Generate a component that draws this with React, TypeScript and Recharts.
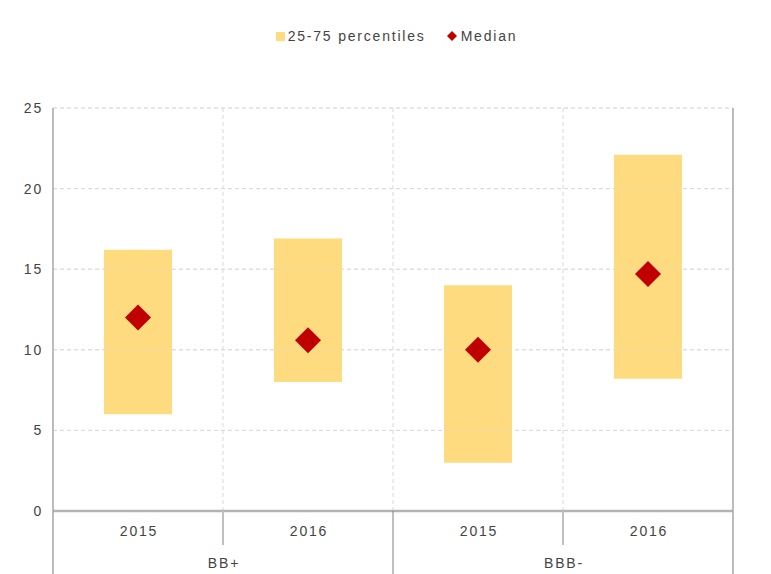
import { ComposedChart, Bar, Line, XAxis, YAxis, CartesianGrid, ReferenceLine, Legend } from 'recharts';

const groups = ['BB+', 'BB+', 'BBB-', 'BBB-'];
const years = ['2015', '2016', '2015', '2016'];
const p25 = [6.0, 8.0, 3.0, 8.2];
const p75 = [16.2, 16.9, 14.0, 22.1];
const median = [12.0, 10.6, 10.0, 14.7];
const yTicks = [0, 5, 10, 15, 20, 25];

const data = years.map((y, i) => ({
  key: `${groups[i]} ${y}`,
  year: y,
  group: groups[i],
  range: [p25[i], p75[i]],
  median: median[i],
}));

const TEXT = '#444444';
const AXIS = '#a6a6a6';
const BAND = '#FFDB80';
const RED = '#C00000';
const GRID = '#d9d9d9';
const font = { fontFamily: 'Liberation Sans, Arial, sans-serif', fontSize: 14, letterSpacing: 1.8 };

function CategoryTick(props: any) {
  const { x, y, index, payload, width, visibleTicksCount } = props;
  const count = visibleTicksCount || data.length;
  const half = payload && payload.offset ? payload.offset : width / count / 2;
  const last = data.length - 1;
  const row = data[index];
  return (
    <g>
      <text x={x + 1} y={y + 25} textAnchor="middle" fill={TEXT} style={font}>
        {row.year}
      </text>
      {index % 2 === 1 && (
        <text x={x - half + 1} y={y + 57} textAnchor="middle" fill={TEXT} style={font}>
          {row.group}
        </text>
      )}
      {index === 0 && <line x1={x - half} x2={x - half} y1={y} y2={y + 70} stroke={AXIS} strokeWidth={1.5} />}
      {index < last && index % 2 === 0 && (
        <line x1={x + half} x2={x + half} y1={y} y2={y + 34} stroke="#bfbfbf" strokeWidth={2} />
      )}
      {index < last && index % 2 === 1 && (
        <line x1={x + half} x2={x + half} y1={y} y2={y + 70} stroke="#7f7f7f" strokeWidth={1} />
      )}
      {index === last && <line x1={x + half} x2={x + half} y1={y} y2={y + 70} stroke={AXIS} strokeWidth={1.5} />}
    </g>
  );
}

function Diamond(props: any) {
  const { cx, cy, index } = props;
  if (cx == null || cy == null) return <g key={`d${index}`} />;
  const r = 13;
  return (
    <polygon
      key={`d${index}`}
      points={`${cx},${cy - r} ${cx + r},${cy} ${cx},${cy + r} ${cx - r},${cy}`}
      fill={RED}
    />
  );
}

function LegendContent() {
  return (
    <div style={{ height: 82, display: 'flex', justifyContent: 'center', alignItems: 'flex-start', paddingLeft: 22, boxSizing: 'border-box' }}>
      <div style={{ display: 'flex', alignItems: 'center', height: 20, color: TEXT, ...font }}>
        <span style={{ width: 9, height: 9, background: BAND, display: 'inline-block', marginRight: 3 }} />
        <span>25-75 percentiles</span>
        <svg width={10} height={10} style={{ marginLeft: 21, marginRight: 4 }}>
          <polygon points="5,0 10,5 5,10 0,5" fill={RED} />
        </svg>
        <span>Median</span>
      </div>
    </div>
  );
}

export default function App() {
  return (
    <div style={{ position: 'absolute', left: 0, top: 0, background: '#fff' }}>
      <ComposedChart width={771} height={574} data={data} margin={{ top: 26, right: 0, bottom: 0, left: 0 }} barCategoryGap="30%">
        <Legend verticalAlign="top" content={<LegendContent />} />
        <CartesianGrid xAxisId="cat" yAxisId="left" vertical={false} stroke={GRID} strokeDasharray="4 3" />
        <XAxis
          xAxisId="cat"
          dataKey="key"
          height={63}
          interval={0}
          tickSize={0}
          tickMargin={0}
          tickLine={false}
          axisLine={{ stroke: '#b3b3b3', strokeWidth: 2.5 }}
          tick={<CategoryTick />}
        />
        <YAxis
          yAxisId="left"
          width={53}
          domain={[0, 25]}
          ticks={yTicks}
          tickSize={0}
          tickMargin={10}
          tickLine={false}
          axisLine={{ stroke: AXIS, strokeWidth: 1.5 }}
          tick={{ fill: TEXT, ...font }}
        />
        <YAxis
          yAxisId="right"
          orientation="right"
          width={38}
          domain={[0, 25]}
          ticks={yTicks}
          tickSize={0}
          tickMargin={14}
          tickLine={false}
          axisLine={{ stroke: AXIS, strokeWidth: 1.5 }}
          tick={{ fill: TEXT, ...font }}
        />
        {data.slice(0, -1).map((d) => (
          <ReferenceLine
            key={d.key}
            xAxisId="cat"
            yAxisId="left"
            x={d.key}
            position="end"
            stroke={GRID}
            strokeDasharray="4 3"
          />
        ))}
        <Bar xAxisId="cat" yAxisId="left" dataKey="range" fill={BAND} isAnimationActive={false} />
        {yTicks.slice(1).map((t) => (
          <ReferenceLine key={`h${t}`} yAxisId="left" xAxisId="cat" y={t} stroke={GRID} strokeOpacity={0.6} strokeDasharray="4 3" />
        ))}
        <Line
          xAxisId="cat"
          yAxisId="left"
          dataKey="median"
          stroke="none"
          dot={(p: any) => <Diamond {...p} />}
          activeDot={false}
          isAnimationActive={false}
        />
      </ComposedChart>
    </div>
  );
}
